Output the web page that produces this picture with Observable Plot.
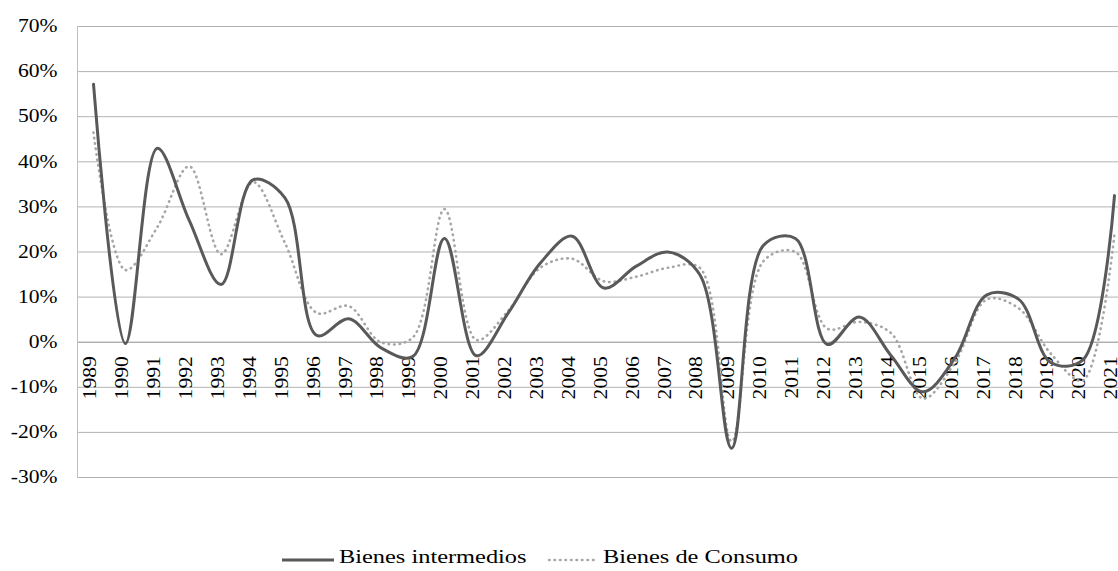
<!DOCTYPE html>
<html>
<head>
<meta charset="utf-8">
<script src="https://cdn.jsdelivr.net/npm/d3@7"></script>
<script src="https://cdn.jsdelivr.net/npm/@observablehq/plot@0.6"></script>
<style>
  html, body { margin: 0; padding: 0; background: #fff; }
  #chart svg { display: block; }
  #legend { position: relative; width: 1118px; height: 26px; font-family: "Liberation Serif", "Times New Roman", serif; font-size: 19.5px; color: #000; }
  #legend .item { position: absolute; top: 0; height: 26px; }
  #legend .item svg { position: absolute; top: 0; left: 0; }
  #legend .item span { position: absolute; top: 1px; white-space: nowrap; display: inline-block; transform: scaleX(1.25); transform-origin: 0 50%; }
</style>
</head>
<body>
<div id="chart"></div>
<div id="legend"></div>
<script>
const years = [1989,1990,1991,1992,1993,1994,1995,1996,1997,1998,1999,2000,2001,2002,2003,2004,2005,2006,2007,2008,2009,2010,2011,2012,2013,2014,2015,2016,2017,2018,2019,2020,2021];
const intermedios = [57.2,-0.3,43,27,12.8,36,32,1.5,5.2,-1.2,-3.2,23,-3,6.5,17.5,23.5,12,16.8,20,15,-23.5,21.5,23,-0.5,5.6,-3,-11,-3.5,10.5,9.5,-4.5,-4,32.5];
const consumo = [46.5,16,25.5,39,19.5,35.5,22,6.5,8,0,1,29.5,0.5,7,16.5,18.5,13.5,14.5,16.5,16.5,-22,18,20,3,4.5,2,-12.5,-4.5,9.5,7.5,-2.5,-8.5,24];
const yTicks = [-30,-20,-10,0,10,20,30,40,50,60,70];
const seriesNames = ["Bienes intermedios", "Bienes de Consumo"];

const rowsI = years.map((y, i) => ({year: y, value: intermedios[i]}));
const rowsC = years.map((y, i) => ({year: y, value: consumo[i]}));
const labels = years.map(y => ({year: y}));

const font = "'Liberation Serif', 'Times New Roman', serif";

const chart = Plot.plot({
  width: 1118,
  height: 545,
  marginTop: 26,
  marginBottom: 68,
  marginLeft: 77,
  marginRight: 0,
  style: {fontFamily: font, fontSize: "18px", color: "#000", background: "#fff", overflow: "hidden"},
  x: {type: "linear", domain: [years[0], years[years.length - 1]], range: [93, 1114], axis: null},
  y: {domain: [-30, 70], ticks: yTicks, axis: null},
  marks: [
    Plot.gridY(yTicks.filter(d => d !== 0), {stroke: "#b3b3b3", strokeOpacity: 1, strokeWidth: 1}),
    Plot.ruleY([0], {stroke: "#8c8c8c", strokeWidth: 1}),
    Plot.frame({anchor: "left", stroke: "#bfbfbf"}),
    Plot.axisY(yTicks, {tickSize: 0, tickPadding: 20, tickFormat: d => d + "%", fontSize: 18, fill: "#000", label: null}),
    Plot.text(labels, {x: "year", y: () => 0, text: d => String(d.year), rotate: -90, textAnchor: "end", lineAnchor: "middle", dy: 14, dx: -3, fontSize: 18, fill: "#000"}),
    Plot.line(rowsC, {x: "year", y: "value", curve: "catmull-rom", stroke: "#a6a6a6", strokeWidth: 2.6, strokeDasharray: "0.5 5", strokeLinecap: "round"}),
    Plot.line(rowsI, {x: "year", y: "value", curve: "catmull-rom", stroke: "#595959", strokeWidth: 3})
  ]
});
// widen glyphs along the reading direction, as in the reference
chart.querySelectorAll("text").forEach(el => {
  const t = el.getAttribute("transform") || "";
  el.setAttribute("transform", (t + " scale(1.2,1)").trim());
});
document.getElementById("chart").appendChild(chart);

const legend = document.getElementById("legend");
legend.innerHTML = `
  <div class="item" style="left:282px">
    <svg width="52" height="26"><line x1="0" y1="15" x2="52" y2="15" stroke="#595959" stroke-width="3"/></svg>
    <span style="left:57px">${seriesNames[0]}</span>
  </div>
  <div class="item" style="left:548px">
    <svg width="50" height="26"><line x1="1" y1="15" x2="49" y2="15" stroke="#a6a6a6" stroke-width="2.6" stroke-dasharray="0.5 5" stroke-linecap="round"/></svg>
    <span style="left:55px">${seriesNames[1]}</span>
  </div>`;
</script>
</body>
</html>
